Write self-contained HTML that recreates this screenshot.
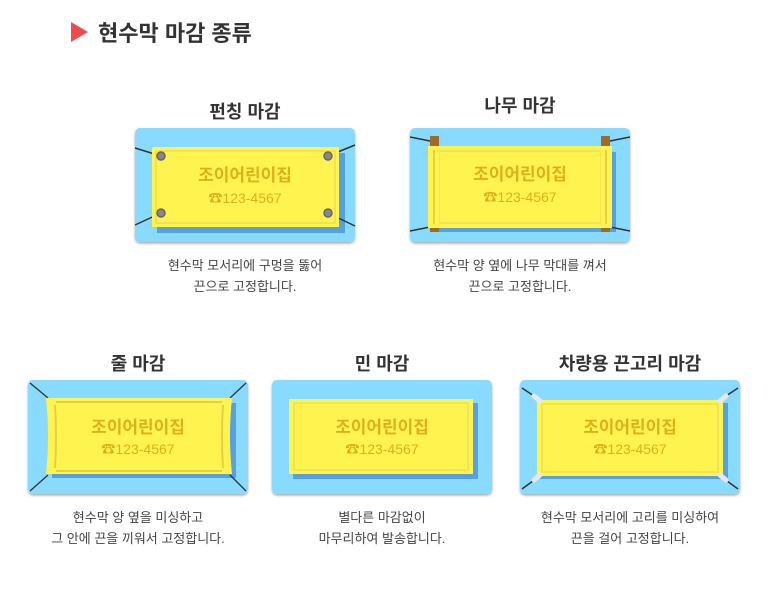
<!DOCTYPE html>
<html><head><meta charset="utf-8"><style>
html,body{margin:0;padding:0;background:#fff;}
svg{display:block;font-family:"Liberation Sans","Noto Sans CJK KR",sans-serif;}
.t{font-size:18px;font-weight:bold;fill:#333;text-anchor:middle;}
.d{font-size:13px;fill:#444;text-anchor:middle;}
.b1{font-size:17px;font-weight:bold;fill:#dcb01c;text-anchor:middle;}
.b2{font-size:14px;fill:#dcb01c;text-anchor:middle;}
</style></head><body>
<svg width="768" height="600" viewBox="0 0 768 600" xmlns="http://www.w3.org/2000/svg">
<defs>
<filter id="sh" x="-10%" y="-10%" width="120%" height="130%"><feDropShadow dx="0" dy="1.5" stdDeviation="1.2" flood-color="#000" flood-opacity="0.35"/></filter>
</defs>
<polygon points="71,22 71,42 88,32" fill="#f04a4a"/>
<text x="98" y="41" font-size="22" font-weight="bold" fill="#333">현수막 마감 종류</text>

<!-- 1 punching -->
<text class="t" x="245" y="118">펀칭 마감</text>
<rect x="135" y="128" width="220" height="114" rx="5" fill="#88dbff" filter="url(#sh)"/>
<rect x="157" y="153" width="188" height="80" fill="#4a90d9" opacity="0.8"/>
<g stroke="#333" stroke-width="1.5"><line x1="135" y1="148" x2="161" y2="156"/><line x1="135" y1="225" x2="161" y2="213"/><line x1="355" y1="145" x2="328" y2="156"/><line x1="355" y1="226" x2="328" y2="213"/></g>
<rect x="152" y="147" width="187" height="80" fill="#fff44f"/>
<rect x="156" y="151" width="179" height="72" fill="none" stroke="#f0dc50" stroke-width="1.5"/>
<g fill="#888" stroke="#666" stroke-width="1.5"><circle cx="161" cy="156" r="4"/><circle cx="161" cy="213" r="4"/><circle cx="328" cy="156" r="4"/><circle cx="328" cy="213" r="4"/></g>
<text class="b1" x="245" y="181">조이어린이집</text><text class="b2" x="245" y="203">☎123-4567</text>
<text class="d" x="245" y="270">현수막 모서리에 구멍을 뚫어</text>
<text class="d" x="245" y="291">끈으로 고정합니다.</text>

<!-- 2 wood -->
<text class="t" x="520" y="112">나무 마감</text>
<rect x="410" y="128" width="220" height="114" rx="5" fill="#88dbff" filter="url(#sh)"/>
<rect x="432" y="152" width="184" height="80" fill="#4a90d9" opacity="0.8"/>
<g stroke="#333" stroke-width="1.5"><line x1="410" y1="137" x2="435" y2="142"/><line x1="410" y1="231" x2="435" y2="226"/><line x1="630" y1="137" x2="605" y2="142"/><line x1="630" y1="231" x2="605" y2="226"/></g>
<rect x="428" y="146" width="184" height="82" fill="#fff44f"/>
<rect x="439" y="151" width="162" height="72" fill="none" stroke="#f0dc50" stroke-width="1.5"/>
<g fill="#a06a28"><rect x="430" y="136" width="9" height="96"/><rect x="601" y="136" width="9" height="96"/></g>
<rect x="430" y="146" width="9" height="82" fill="#fff44f"/><rect x="601" y="146" width="9" height="82" fill="#fff44f"/>
<g stroke="#e6cf40" stroke-width="2"><line x1="434" y1="150" x2="434" y2="224"/><line x1="606" y1="150" x2="606" y2="224"/></g>
<text class="b1" x="520" y="180">조이어린이집</text><text class="b2" x="520" y="202">☎123-4567</text>
<text class="d" x="520" y="270">현수막 양 옆에 나무 막대를 껴서</text>
<text class="d" x="520" y="291">끈으로 고정합니다.</text>

<!-- 3 rope -->
<text class="t" x="138" y="370">줄 마감</text>
<rect x="28" y="380" width="220" height="114" rx="5" fill="#88dbff" filter="url(#sh)"/>
<rect x="52" y="403" width="184" height="75" fill="#4a90d9" opacity="0.8"/>
<g stroke="#333" stroke-width="1.3"><line x1="30" y1="383" x2="48" y2="398"/><line x1="30" y1="491" x2="48" y2="475"/><line x1="246" y1="383" x2="230" y2="398"/><line x1="246" y1="491" x2="230" y2="475"/></g>
<path d="M46,398 L232,398 Q228,436 232,474 L46,474 Q50,436 46,398 Z" fill="#fff44f"/>
<g stroke="#e6cf40" stroke-width="2" fill="none"><line x1="56" y1="402" x2="222" y2="402"/><line x1="56" y1="471" x2="222" y2="471"/><path d="M55,405 Q57,436 55,468"/><path d="M223,405 Q221,436 223,468"/></g>
<text class="b1" x="138" y="433">조이어린이집</text><text class="b2" x="138" y="454">☎123-4567</text>
<text class="d" x="138" y="522">현수막 양 옆을 미싱하고</text>
<text class="d" x="138" y="543">그 안에 끈을 끼워서 고정합니다.</text>

<!-- 4 plain -->
<text class="t" x="382" y="370">민 마감</text>
<rect x="272" y="380" width="220" height="114" rx="5" fill="#88dbff" filter="url(#sh)"/>
<rect x="293" y="403" width="185" height="76" fill="#4a90d9" opacity="0.8"/>
<rect x="289" y="399" width="184" height="75" fill="#fff44f"/>
<rect x="294" y="403" width="174" height="67" fill="none" stroke="#f0dc50" stroke-width="1.5"/>
<text class="b1" x="382" y="433">조이어린이집</text><text class="b2" x="382" y="454">☎123-4567</text>
<text class="d" x="382" y="522">별다른 마감없이</text>
<text class="d" x="382" y="543">마무리하여 발송합니다.</text>

<!-- 5 vehicle -->
<text class="t" x="630" y="370">차량용 끈고리 마감</text>
<rect x="520" y="380" width="220" height="114" rx="5" fill="#88dbff" filter="url(#sh)"/>
<rect x="540" y="403" width="188" height="76" fill="#4a90d9" opacity="0.8"/>
<g stroke="#333" stroke-width="1.5"><line x1="522" y1="388" x2="537" y2="398"/><line x1="522" y1="489" x2="537" y2="478"/><line x1="738" y1="388" x2="723" y2="398"/><line x1="738" y1="489" x2="723" y2="478"/></g>
<rect x="537" y="400" width="186" height="76" rx="2" fill="#fff44f"/>
<rect x="542" y="404" width="176" height="68" fill="none" stroke="#f0dc50" stroke-width="1.5"/>
<g stroke="#e8e8e8" stroke-width="5" stroke-linecap="round"><line x1="534" y1="396" x2="540" y2="401"/><line x1="534" y1="480" x2="540" y2="475"/><line x1="726" y1="396" x2="720" y2="401"/><line x1="726" y1="480" x2="720" y2="475"/></g>
<text class="b1" x="630" y="433">조이어린이집</text><text class="b2" x="630" y="454">☎123-4567</text>
<text class="d" x="630" y="522">현수막 모서리에 고리를 미싱하여</text>
<text class="d" x="630" y="543">끈을 걸어 고정합니다.</text>
</svg>
</body></html>
